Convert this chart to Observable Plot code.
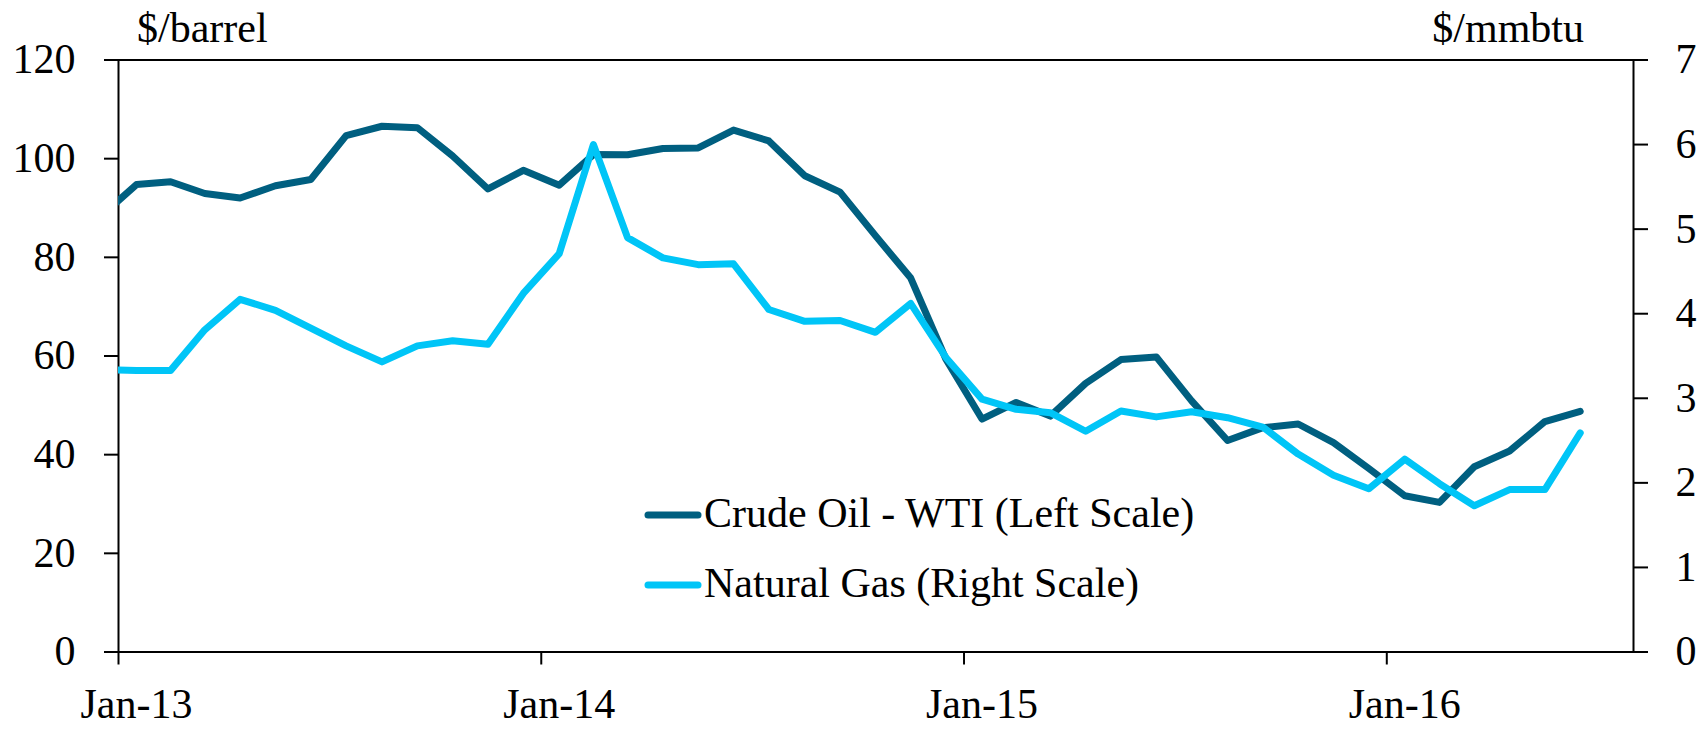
<!DOCTYPE html>
<html>
<head>
<meta charset="utf-8">
<script src="https://cdn.jsdelivr.net/npm/d3@7"></script>
<script src="https://cdn.jsdelivr.net/npm/@observablehq/plot@0.6"></script>
<style>
  html, body { margin: 0; padding: 0; background: #fff; }
  #chart { position: relative; width: 1705px; height: 731px; }
  #chart svg, #chart svg text { font-family: "Liberation Serif", "DejaVu Serif", "Times New Roman", serif !important; }
</style>
</head>
<body>
<div id="chart"></div>
<script>
// ---- data (monthly averages) ----
const months = ["2012-12",
  "2013-01","2013-02","2013-03","2013-04","2013-05","2013-06","2013-07","2013-08","2013-09","2013-10","2013-11","2013-12",
  "2014-01","2014-02","2014-03","2014-04","2014-05","2014-06","2014-07","2014-08","2014-09","2014-10","2014-11","2014-12",
  "2015-01","2015-02","2015-03","2015-04","2015-05","2015-06","2015-07","2015-08","2015-09","2015-10","2015-11","2015-12",
  "2016-01","2016-02","2016-03","2016-04","2016-05","2016-06"];
const oilWTI = [88.25,
  94.76, 95.31, 92.94, 92.02, 94.51, 95.77, 104.67, 106.57, 106.29, 100.54, 93.86, 97.63,
  94.62, 100.82, 100.80, 102.07, 102.18, 105.79, 103.59, 96.54, 93.21, 84.40, 75.79, 59.29,
  47.22, 50.58, 47.82, 54.45, 59.27, 59.82, 50.90, 42.87, 45.48, 46.22, 42.44, 37.19,
  31.68, 30.32, 37.55, 40.75, 46.71, 48.76];
const natGas = [3.34,
  3.33, 3.33, 3.81, 4.17, 4.04, 3.83, 3.62, 3.43, 3.62, 3.68, 3.64, 4.24,
  4.71, 6.00, 4.90, 4.66, 4.58, 4.59, 4.05, 3.91, 3.92, 3.78, 4.12, 3.48,
  2.99, 2.87, 2.83, 2.61, 2.85, 2.78, 2.84, 2.77, 2.66, 2.34, 2.09, 1.93,
  2.28, 1.99, 1.73, 1.92, 1.92, 2.59];
const leftTicks = [0, 20, 40, 60, 80, 100, 120];
const rightTicks = [0, 1, 2, 3, 4, 5, 6, 7];
const yearTicks = ["2013-01", "2014-01", "2015-01", "2016-01"];
const xDomain = ["2013-01", "2016-08"];
const seriesNames = ["Crude Oil - WTI (Left Scale)", "Natural Gas (Right Scale)"];
const leftUnit = "$/barrel", rightUnit = "$/mmbtu";

// ---- helpers ----
const parseM = d3.utcParse("%Y-%m");
const midMonth = s => { const a = parseM(s); const b = d3.utcMonth.offset(a, 1); return new Date((+a + +b) / 2); };
const k = 120 / 7; // right scale -> left scale
const data = months.map((m, i) => ({date: midMonth(m), oil: oilWTI[i], gas: natGas[i]}));

const oilColor = "#005F80";
const gasColor = "#00C5F7";
const FONT = '"Liberation Serif", "DejaVu Serif", "Times New Roman", serif';

const chart = Plot.plot({
  width: 1705,
  height: 731,
  marginLeft: 118,
  marginRight: 72,
  marginTop: 59.5,
  marginBottom: 79.5,
  style: {fontFamily: FONT, fontSize: "42px", color: "#000", background: "#fff", overflow: "visible"},
  x: {type: "utc", domain: xDomain.map(parseM)},
  y: {domain: [0, 120]},
  marks: [
    Plot.frame({stroke: "#000", strokeWidth: 2}),
    Plot.axisY(leftTicks, {anchor: "left", tickSize: 14, tickPadding: 29, strokeWidth: 2, label: null, fontSize: 42}),
    Plot.axisY(rightTicks.map(v => v * k), {anchor: "right", tickSize: 14, tickPadding: 28, strokeWidth: 2, label: null, fontSize: 42,
      tickFormat: v => String(Math.round(v / k))}),
    Plot.axisX(yearTicks.map(parseM), {anchor: "bottom", tickSize: 13, strokeWidth: 2, tickFormat: () => "", label: null}),
    Plot.axisX(yearTicks.map(midMonth), {anchor: "bottom", tickSize: 0, tickPadding: 36, label: null, fontSize: 42,
      tickFormat: d3.utcFormat("%b-%y")}),
    Plot.line(data, {x: "date", y: "oil", stroke: oilColor, strokeWidth: 7, clip: true, strokeLinejoin: "round"}),
    Plot.line(data, {x: "date", y: d => d.gas * k, stroke: gasColor, strokeWidth: 7, clip: true, strokeLinejoin: "round"})
  ]
});
document.getElementById("chart").appendChild(chart);

// ---- unit titles & legend ----
const svg = d3.select(chart);
const g = svg.append("g").attr("font-family", FONT).attr("font-size", 42).attr("fill", "#000").attr("text-anchor", "start");
g.append("text").attr("x", 137).attr("y", 42).attr("text-anchor", "start").text(leftUnit);
g.append("text").attr("x", 1584).attr("y", 42).attr("text-anchor", "end").text(rightUnit);

const legend = g.append("g");
[oilColor, gasColor].forEach((c, i) => {
  const cy = 515 + i * 70;
  legend.append("line").attr("x1", 648).attr("x2", 698).attr("y1", cy).attr("y2", cy)
    .attr("stroke", c).attr("stroke-width", 7).attr("stroke-linecap", "round");
  legend.append("text").attr("x", 704).attr("y", cy + 12).attr("text-anchor", "start").text(seriesNames[i]);
});
</script>
</body>
</html>
